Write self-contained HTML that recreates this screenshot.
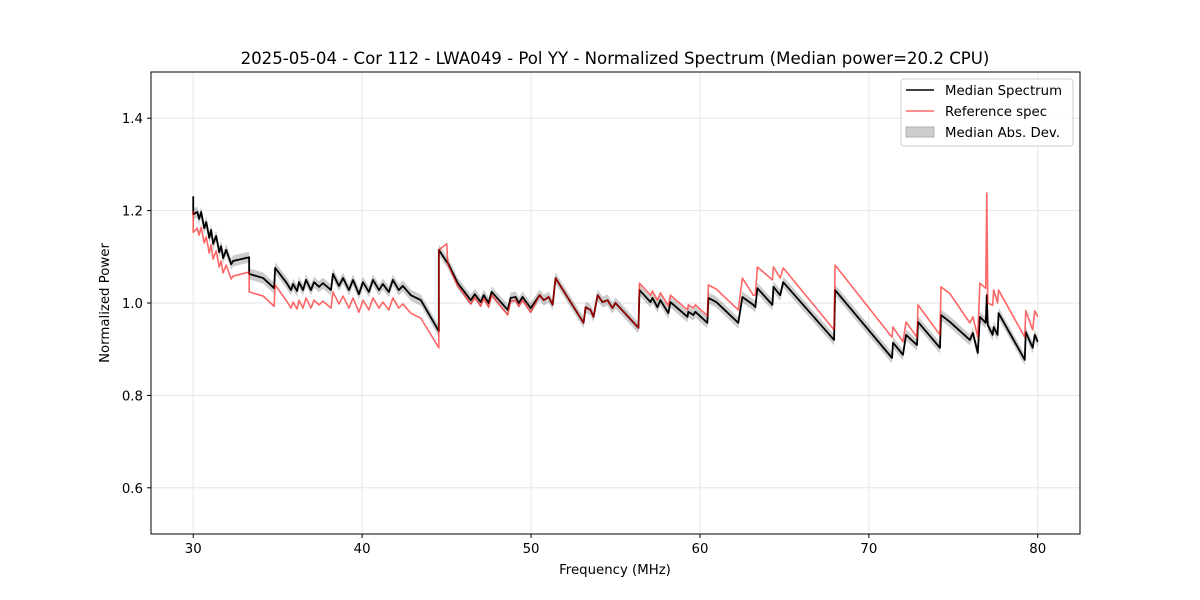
<!DOCTYPE html>
<html><head><meta charset="utf-8"><style>
body{margin:0;background:#fff;}
svg{display:block;font-family:"DejaVu Sans","Liberation Sans",sans-serif;}
</style></head><body>
<svg id="chart" width="1200" height="600" viewBox="0 0 1200 600" xmlns="http://www.w3.org/2000/svg">
<rect width="1200" height="600" fill="#fff"/>
<g id="grid"></g>
<g id="series"></g>
<rect x="151" y="72" width="929" height="462" fill="none" stroke="#000" stroke-width="1"/>
<g id="ticks"></g>
<text x="615" y="64" text-anchor="middle" font-size="16.6">2025-05-04 - Cor 112 - LWA049 - Pol YY - Normalized Spectrum (Median power=20.2 CPU)</text>
<text x="615" y="574" text-anchor="middle" font-size="13.3">Frequency (MHz)</text>
<text transform="translate(109,303) rotate(-90)" text-anchor="middle" font-size="13.3">Normalized Power</text>
<g>
<rect x="901" y="79" width="172" height="67" rx="3" fill="#fff" fill-opacity="0.8" stroke="#ccc"/>
<g><line x1="906" y1="90" x2="934" y2="90" stroke="#000" stroke-width="1.5"/><text x="945" y="95" font-size="13.3">Median Spectrum</text></g>
<g><line x1="906" y1="111" x2="934" y2="111" stroke="#ff6666" stroke-width="1.5"/><text x="945" y="116" font-size="13.3">Reference spec</text></g>
<g><rect x="906" y="127" width="28" height="10" fill="#cccccc" stroke="#b0b0b0"/><text x="945" y="137" font-size="13.3">Median Abs. Dev.</text></g>
</g>
</svg>
<script>
const freq = [30.00,30.00,30.24,30.35,30.47,30.65,30.77,30.95,31.06,31.18,31.36,31.54,31.65,31.77,31.95,32.25,32.36,33.31,33.31,34.14,34.79,34.85,35.50,35.79,35.91,36.15,36.26,36.50,36.68,36.97,37.15,37.45,37.68,38.16,38.27,38.63,38.87,39.22,39.46,39.81,40.05,40.40,40.64,41.00,41.23,41.58,41.82,42.17,42.41,42.88,43.48,44.54,44.54,45.01,45.07,45.66,46.43,46.67,47.02,47.20,47.49,47.67,48.62,48.79,49.09,49.27,49.50,49.98,50.51,50.75,51.04,51.28,51.45,53.11,53.23,53.52,53.70,53.94,54.23,54.53,54.82,55.00,56.36,56.42,57.07,57.19,57.48,57.66,58.13,58.25,59.26,59.31,59.61,59.73,60.44,60.50,60.97,62.27,62.51,63.16,63.28,63.40,64.29,64.35,64.75,64.93,67.94,68.00,71.37,71.43,72.02,72.20,72.85,72.91,74.21,74.27,74.80,75.98,76.16,76.45,76.57,76.92,76.98,77.04,77.33,77.39,77.62,77.68,79.23,79.29,79.70,79.82,80.00];
const median = [1.231,1.192,1.197,1.182,1.197,1.162,1.175,1.141,1.158,1.128,1.145,1.110,1.123,1.097,1.115,1.084,1.091,1.099,1.063,1.054,1.032,1.076,1.045,1.028,1.041,1.026,1.045,1.028,1.050,1.028,1.045,1.035,1.043,1.028,1.063,1.037,1.054,1.028,1.050,1.019,1.045,1.024,1.050,1.028,1.041,1.024,1.050,1.028,1.037,1.017,1.006,0.939,1.115,1.089,1.087,1.043,1.006,1.019,1.002,1.017,1.000,1.024,0.985,1.011,1.013,1.000,1.013,0.989,1.017,1.006,1.013,0.996,1.054,0.957,0.991,0.985,0.970,1.017,1.002,1.006,0.989,1.000,0.946,1.028,1.002,1.011,0.991,1.006,0.978,1.002,0.970,0.981,0.974,0.981,0.957,1.011,1.002,0.957,1.013,0.996,0.991,1.032,0.996,1.035,1.017,1.045,0.920,1.028,0.881,0.914,0.888,0.931,0.909,0.959,0.903,0.974,0.959,0.920,0.935,0.892,0.970,0.957,1.017,0.952,0.931,0.948,0.931,0.978,0.877,0.937,0.903,0.931,0.916];
const reference = [1.199,1.153,1.162,1.147,1.164,1.130,1.143,1.108,1.126,1.095,1.113,1.078,1.091,1.065,1.082,1.052,1.058,1.067,1.024,1.015,0.993,1.039,1.006,0.989,1.002,0.987,1.006,0.989,1.011,0.989,1.006,0.996,1.004,0.989,1.024,0.998,1.015,0.989,1.011,0.980,1.006,0.985,1.011,0.989,1.002,0.985,1.011,0.989,0.998,0.978,0.967,0.903,1.115,1.128,1.085,1.037,0.998,1.012,0.993,1.010,0.991,1.017,0.974,1.004,1.006,0.993,1.006,0.980,1.017,1.006,1.013,0.996,1.054,0.957,0.991,0.985,0.970,1.017,1.002,1.006,0.989,1.000,0.946,1.043,1.017,1.026,1.006,1.022,0.994,1.017,0.985,0.996,0.989,0.996,0.972,1.039,1.030,0.985,1.054,1.017,1.017,1.078,1.050,1.078,1.054,1.076,0.942,1.082,0.926,0.948,0.916,0.959,0.926,0.996,0.931,1.035,1.020,0.957,0.970,0.926,1.043,1.032,1.238,1.000,0.995,1.028,1.000,1.028,0.926,0.983,0.942,0.983,0.970];
const madDev = 0.012;
const xTicks = [30,40,50,60,70,80];
const yTicks = [0.6,0.8,1.0,1.2,1.4];
const yTickLabels = ["0.6","0.8","1.0","1.2","1.4"];

const NS='http://www.w3.org/2000/svg';
const X0=151,X1=1080,Y0=534,Y1=72, FMIN=27.5,FMAX=82.5,VMIN=0.5,VMAX=1.5;
function xs(f){return X0+(f-FMIN)/(FMAX-FMIN)*(X1-X0);}
function ys(v){return Y0-(v-VMIN)/(VMAX-VMIN)*(Y0-Y1);}
function mk(tag,attrs,parent){const e=document.createElementNS(NS,tag);for(const k in attrs)e.setAttribute(k,attrs[k]);parent.appendChild(e);return e;}
const grid=document.getElementById('grid'),ticks=document.getElementById('ticks'),series=document.getElementById('series');
xTicks.forEach(t=>{
  const x=xs(t);
  const g=mk('line',{x1:x,x2:x,y1:Y1,y2:Y0,stroke:'#e6e6e6','stroke-width':1},grid);
  
  
  const tk=mk('line',{x1:x,x2:x,y1:Y0,y2:Y0+4,stroke:'#000'},ticks);
  
  
  const tx=mk('text',{x:x,y:Y0+19,'text-anchor':'middle','font-size':13.3},ticks);
  tx.textContent=String(t);
  
  
});
yTicks.forEach((t,i)=>{
  const y=ys(t);
  const g=mk('line',{x1:X0,x2:X1,y1:y,y2:y,stroke:'#e6e6e6','stroke-width':1},grid);
  
  
  const tk=mk('line',{x1:X0-4,x2:X0,y1:y,y2:y,stroke:'#000'},ticks);
  
  
  const tx=mk('text',{x:X0-8,y:y+5,'text-anchor':'end','font-size':13.3},ticks);
  tx.textContent=yTickLabels[i];
  
  
});
let up=[],dn=[];
freq.forEach((f,i)=>{up.push(xs(f)+','+ys(median[i]+madDev));dn.unshift(xs(f)+','+ys(median[i]-madDev));});
const band=mk('polygon',{points:up.concat(dn).join(' '),fill:'#000','fill-opacity':0.2,stroke:'none'},series);


const mline=mk('polyline',{points:freq.map((f,i)=>xs(f)+','+ys(median[i])).join(' '),fill:'none',stroke:'#000','stroke-width':1.8,'stroke-linejoin':'round'},series);


const rline=mk('polyline',{points:freq.map((f,i)=>xs(f)+','+ys(reference[i])).join(' '),fill:'none',stroke:'#ff0000','stroke-opacity':0.6,'stroke-width':1.6,'stroke-linejoin':'round'},series);


</script>
</body></html>
